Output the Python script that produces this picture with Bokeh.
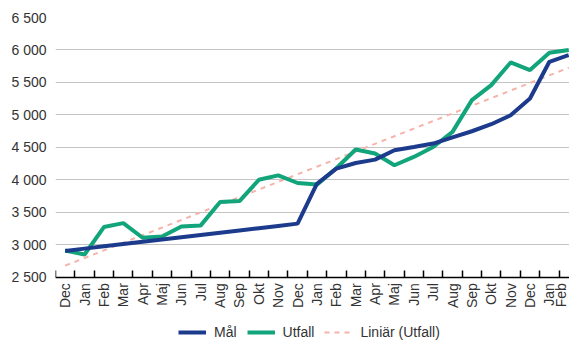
import math
import numpy as np
from bokeh.plotting import figure
from bokeh.models import (Range1d, FixedTicker, Legend, LegendItem, ColumnDataSource)
from bokeh.embed import file_html
from bokeh.resources import INLINE

months = ["Dec", "Jan", "Feb", "Mar", "Apr", "Maj", "Jun", "Jul", "Aug", "Sep", "Okt", "Nov",
          "Dec", "Jan", "Feb", "Mar", "Apr", "Maj", "Jun", "Jul", "Aug", "Sep", "Okt", "Nov",
          "Dec", "Jan", "Feb"]
mal = [2905, 2940, 2975, 3010, 3045, 3080, 3115, 3150, 3185, 3220, 3255, 3290,
       3325, 3940, 4173, 4259, 4311, 4455, 4506, 4558, 4655, 4748, 4856, 4995,
       5253, 5818, 5921]
utfall = [2912, 2850, 3272, 3333, 3108, 3128, 3282, 3298, 3657, 3673, 4000, 4069,
          3951, 3926, 4178, 4466, 4404, 4224, 4352, 4506, 4738, 5227, 5458, 5808,
          5690, 5957, 5998]
y_ticks = [2500, 3000, 3500, 4000, 4500, 5000, 5500, 6000, 6500]
y_labels = ["2 500", "3 000", "3 500", "4 000", "4 500", "5 000", "5 500", "6 000", "6 500"]

x = list(range(len(months)))
coef = np.polyfit(x, utfall, 1)
trend = list(np.polyval(coef, x))

FONT = "Liberation Sans"
FS = "14px"

# frame spans the full height below the top border; the x axis sits at 2 500
p = figure(width=569, height=340, output_backend="svg", toolbar_location=None,
           x_range=Range1d(-0.5, 26.04), y_range=Range1d(1525, 6500),
           min_border_left=55, min_border_right=0, min_border_top=17, min_border_bottom=0)
p.outline_line_color = None
p.background_fill_color = "white"
p.border_fill_color = "white"

src = ColumnDataSource(dict(x=x, mal=mal, utfall=utfall, trend=trend))
r_trend = p.line("x", "trend", source=src, line_color="#f5b3aa", line_width=2, line_dash="5 5")
r_utf = p.line("x", "utfall", source=src, line_color="#12a47a", line_width=4)
r_mal = p.line("x", "mal", source=src, line_color="#1c3b8c", line_width=4)

# x axis
xa = p.xaxis[0]
xa.fixed_location = 2500
xa.ticker = FixedTicker(ticks=x, minor_ticks=[i - 0.5 for i in range(len(months) + 1)])
xa.major_label_overrides = {i: m for i, m in enumerate(months)}
xa.major_label_orientation = math.pi / 2
xa.major_tick_line_color = None
xa.major_tick_in = 0
xa.major_tick_out = 0
xa.minor_tick_in = 7
xa.minor_tick_out = 0
xa.minor_tick_line_color = "black"
xa.minor_tick_line_width = 1.5
xa.axis_line_color = "black"
xa.axis_line_width = 1.5
xa.major_label_standoff = 6
xa.major_label_text_font = FONT
xa.major_label_text_font_size = FS
xa.major_label_text_color = "#333333"

# y axis
ya = p.yaxis[0]
ya.ticker = FixedTicker(ticks=y_ticks)
ya.major_label_overrides = {t: l for t, l in zip(y_ticks, y_labels)}
ya.axis_line_color = None
ya.major_tick_line_color = None
ya.minor_tick_line_color = None
ya.major_tick_in = 0
ya.major_tick_out = 0
ya.major_label_standoff = 9
ya.major_label_text_font = FONT
ya.major_label_text_font_size = FS
ya.major_label_text_color = "#333333"

p.xgrid.grid_line_color = None
p.ygrid.ticker = FixedTicker(ticks=y_ticks[1:])
p.ygrid.grid_line_color = "#c4c4c4"
p.ygrid.grid_line_width = 1

legend = Legend(items=[LegendItem(label="Mål", renderers=[r_mal]),
                       LegendItem(label="Utfall", renderers=[r_utf]),
                       LegendItem(label="Liniär (Utfall)", renderers=[r_trend])],
                orientation="horizontal", location=(123, 0),
                label_text_font=FONT, label_text_font_size=FS, label_text_color="#333333",
                glyph_width=28, glyph_height=14, spacing=10, padding=0, margin=0,
                border_line_color=None, background_fill_alpha=0, label_standoff=8)
p.add_layout(legend, "center")

open("out.html", "w").write(file_html(p, INLINE))
